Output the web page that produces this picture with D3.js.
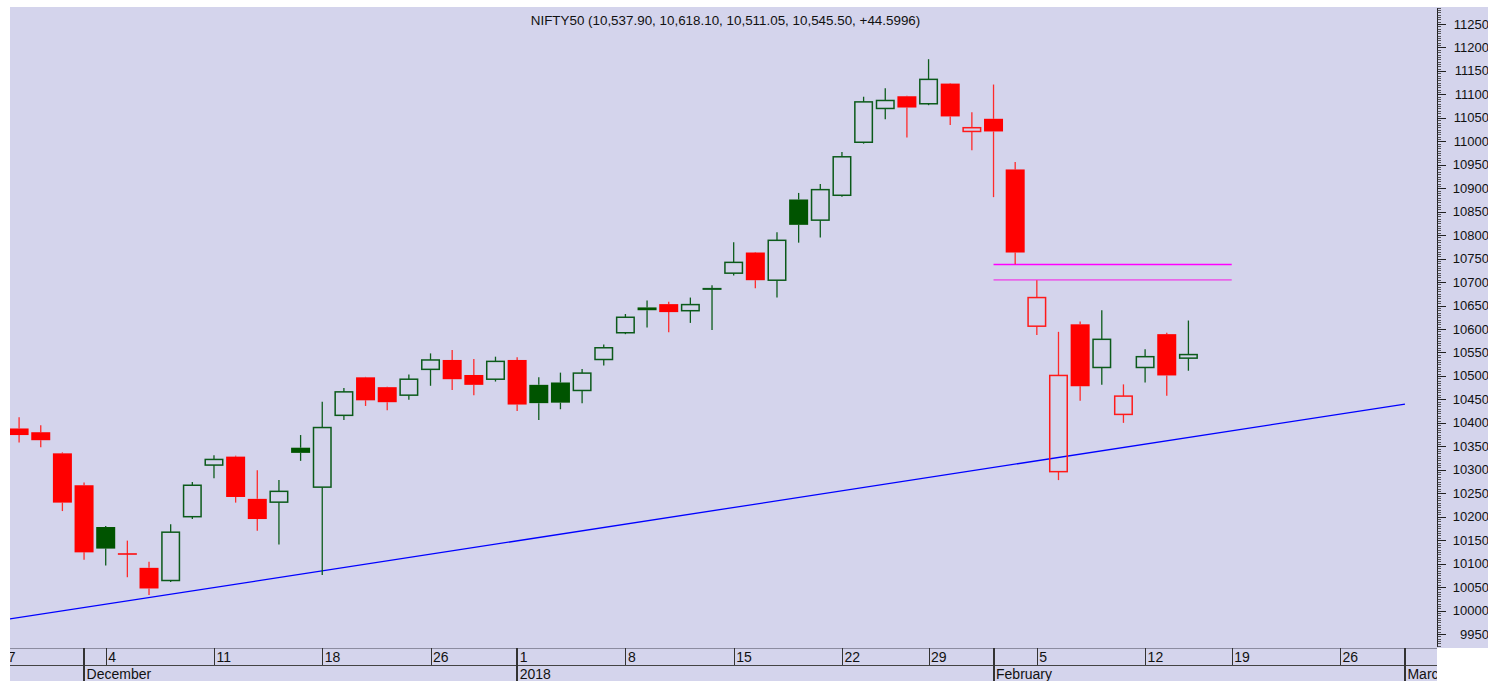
<!DOCTYPE html>
<html>
<head>
<meta charset="utf-8" />
<script src="https://d3js.org/d3.v7.min.js"></script>
<style>
  body { margin: 0; background: #fff; }
  text { font-family: "Liberation Sans", Arial, sans-serif; fill: #111; }
</style>
</head>
<body>
<div id="chart"></div>
<script>
// chart values
const title = "NIFTY50 (10,537.90, 10,618.10, 10,511.05, 10,545.50, +44.5996)";

const dates = [
  "2017-11-28", "2017-11-29", "2017-11-30", "2017-12-01", "2017-12-04", "2017-12-05", "2017-12-06",
  "2017-12-07", "2017-12-08", "2017-12-11", "2017-12-12", "2017-12-13", "2017-12-14", "2017-12-15",
  "2017-12-18", "2017-12-19", "2017-12-20", "2017-12-21", "2017-12-22", "2017-12-26", "2017-12-27",
  "2017-12-28", "2017-12-29", "2018-01-01", "2018-01-02", "2018-01-03", "2018-01-04", "2018-01-05",
  "2018-01-08", "2018-01-09", "2018-01-10", "2018-01-11", "2018-01-12", "2018-01-15", "2018-01-16",
  "2018-01-17", "2018-01-18", "2018-01-19", "2018-01-22", "2018-01-23", "2018-01-24", "2018-01-25",
  "2018-01-29", "2018-01-30", "2018-01-31", "2018-02-01", "2018-02-02", "2018-02-05", "2018-02-06",
  "2018-02-07", "2018-02-08", "2018-02-09", "2018-02-12", "2018-02-14", "2018-02-15"
];
const open = [
  10388, 10380, 10335, 10267, 10178, 10121, 10091, 10064, 10200, 10310, 10328, 10238, 10231, 10347,
  10263, 10416, 10497, 10476, 10459, 10514, 10534, 10502, 10493, 10534, 10481, 10486, 10469, 10535,
  10592, 10646, 10653, 10639, 10685, 10719, 10763, 10704, 10876, 10832, 10885, 10998, 11070, 11096,
  11080, 11123, 11021, 11048, 10940, 10606, 10296, 10610, 10518, 10418, 10518, 10589, 10537.9
];
const high = [
  10412, 10395, 10337, 10273, 10180, 10149, 10104, 10184, 10274, 10331, 10330, 10299, 10278, 10374,
  10445, 10474, 10498, 10477, 10503, 10548, 10555, 10536, 10541, 10540, 10497, 10507, 10515, 10567,
  10632, 10661, 10658, 10667, 10693, 10785, 10764, 10806, 10890, 10909, 10977, 11095, 11113, 11097,
  11175, 11124, 11062, 11121, 10956, 10704, 10594, 10616, 10640, 10482, 10557, 10592, 10618.1
];
const low = [
  10358, 10348, 10212, 10108, 10096, 10071, 10033, 10061, 10195, 10282, 10230, 10170, 10141, 10319,
  10076, 10406, 10436, 10427, 10449, 10479, 10470, 10459, 10488, 10425, 10406, 10429, 10442, 10522,
  10589, 10603, 10593, 10613, 10598, 10714, 10687, 10667, 10784, 10795, 10882, 10995, 11047, 11008,
  11077, 11035, 10981, 10881, 10738, 10587, 10278, 10447, 10481, 10400, 10486, 10458, 10511.05
];
const close = [
  10374, 10363, 10230, 10124, 10132, 10120, 10047, 10167, 10267, 10322, 10242, 10195, 10254, 10336,
  10390, 10466, 10448, 10444, 10493, 10534, 10493, 10481, 10531, 10439, 10442, 10443, 10506, 10560,
  10625, 10640, 10636, 10652, 10686, 10742, 10704, 10789, 10822, 10897, 10967, 11084, 11087, 11072,
  11132, 11053, 11029, 11021, 10763, 10667, 10501, 10478, 10578, 10457, 10541, 10501, 10545.5
];

// trading calendar shown on the axis
const calendarStart = "2017-11-27";
const calendarEnd = "2018-03-02";
const holidays = ["2017-12-25", "2018-01-26", "2018-02-13"];

const yTicks = d3.range(9950, 11251, 50);

// drawn lines: gap levels and the rising trendline
const gapLevels = [10737.5, 10704.5];
const gapColors = ["#ff00ff", "#e866e8"];
const gapFrom = "2018-02-01";
const gapTo = "2018-02-19";
const trendDates = ["2017-11-27", "2018-03-01"];
const trendValues = [9978, 10440];

// layout
const W = 1488, H = 681;
const plot = { left: 10, right: 1437, top: 7, bottom: 648 };
const bg = "#d4d4ec";

const fmt = d3.timeFormat("%Y-%m-%d");
const parse = d3.timeParse("%Y-%m-%d");
const calendar = d3.timeDay
  .range(parse(calendarStart), d3.timeDay.offset(parse(calendarEnd), 1))
  .filter((d) => d.getDay() != 0 && d.getDay() != 6 && !holidays.includes(fmt(d)));
const dayIndex = new Map(calendar.map((d, i) => [fmt(d), i]));

const x = d3.scaleLinear().domain([0.58, 66.48]).range([plot.left, plot.right]);
const y = d3.scaleLinear().domain([9950, 11250]).range([634, 24]);
const xd = (s) => x(dayIndex.get(s));

const svg = d3.select("#chart").append("svg").attr("width", W).attr("height", H);

svg.append("rect").attr("x", plot.left).attr("y", plot.top)
  .attr("width", W - plot.left).attr("height", plot.bottom - plot.top).attr("fill", bg);
svg.append("rect").attr("x", plot.left).attr("y", plot.bottom)
  .attr("width", plot.right - plot.left).attr("height", H - plot.bottom).attr("fill", bg);

svg.append("clipPath").attr("id", "plotclip").append("rect")
  .attr("x", plot.left).attr("y", plot.top)
  .attr("width", plot.right - plot.left).attr("height", plot.bottom - plot.top);
svg.append("clipPath").attr("id", "axisclip").append("rect")
  .attr("x", plot.left).attr("y", plot.bottom)
  .attr("width", plot.right - plot.left).attr("height", H - plot.bottom);

const g = svg.append("g").attr("clip-path", "url(#plotclip)");

// title
svg.append("text").attr("x", (plot.left + plot.right) / 2 + 2).attr("y", 25)
  .attr("text-anchor", "middle").style("font-size", "13.4px").text(title);

// trendline
g.append("line")
  .attr("x1", xd(trendDates[0])).attr("y1", y(trendValues[0]))
  .attr("x2", xd(trendDates[1])).attr("y2", y(trendValues[1]))
  .attr("stroke", "#0000ff").attr("stroke-width", 1.3);

// gap lines
gapLevels.forEach((v, i) => {
  g.append("line")
    .attr("x1", xd(gapFrom)).attr("x2", xd(gapTo))
    .attr("y1", y(v)).attr("y2", y(v))
    .attr("stroke", gapColors[i]).attr("stroke-width", i == 0 ? 1.3 : 1.8);
});

// candles
const candles = dates.map((d, i) => ({
  date: d, o: open[i], h: high[i], l: low[i], c: close[i],
  prev: i > 0 ? close[i - 1] : open[i],
}));
const bw = 19;
const node = g.selectAll(".candle").data(candles).enter().append("g").attr("class", "candle");

candles.forEach((d) => {
  d.up = d.c >= d.prev;
  d.hollow = d.c > d.o;
  d.col = d.up ? "#005400" : "#ff0000";
  d.wick = d.up ? "#0d5c1c" : "#ff2a2a";
  d.top = y(Math.max(d.o, d.c));
  d.bot = y(Math.min(d.o, d.c));
});

node.append("line")
  .attr("x1", (d) => xd(d.date)).attr("x2", (d) => xd(d.date))
  .attr("y1", (d) => y(d.h)).attr("y2", (d) => d.top)
  .attr("stroke", (d) => d.wick).attr("stroke-width", 1.3);
node.append("line")
  .attr("x1", (d) => xd(d.date)).attr("x2", (d) => xd(d.date))
  .attr("y1", (d) => d.bot).attr("y2", (d) => y(d.l))
  .attr("stroke", (d) => d.wick).attr("stroke-width", 1.3);

node.filter((d) => !d.hollow).append("rect")
  .attr("x", (d) => xd(d.date) - bw / 2).attr("width", bw)
  .attr("y", (d) => (d.bot - d.top < 1.5 ? (d.top + d.bot) / 2 - 0.75 : d.top))
  .attr("height", (d) => Math.max(1.5, d.bot - d.top))
  .attr("fill", (d) => d.col);

node.filter((d) => d.hollow).append("rect")
  .attr("x", (d) => xd(d.date) - bw / 2 + 0.75).attr("width", bw - 1.5)
  .attr("y", (d) => d.top).attr("height", (d) => Math.max(0.5, d.bot - d.top))
  .attr("fill", "none")
  .attr("stroke", (d) => (d.up ? "#0b5a1a" : "#ff1a1a"))
  .attr("stroke-width", 1.5);

// right price axis
const ya = svg.append("g");
ya.append("line").attr("x1", plot.right + 0.5).attr("x2", plot.right + 0.5)
  .attr("y1", plot.top + 1).attr("y2", plot.bottom - 1)
  .attr("stroke", "#222").attr("stroke-width", 1);
const minor = d3.range(9920, 11290, 5).filter((v) => y(v) > plot.top && y(v) < plot.bottom - 1);
ya.selectAll(".minor").data(minor).enter().append("line")
  .attr("x1", plot.right).attr("x2", plot.right + 4)
  .attr("y1", (v) => Math.round(y(v)) + 0.5).attr("y2", (v) => Math.round(y(v)) + 0.5)
  .attr("stroke", "#333").attr("stroke-width", 0.8);
ya.selectAll(".major").data(yTicks).enter().append("line")
  .attr("x1", plot.right).attr("x2", plot.right + 9)
  .attr("y1", (v) => Math.round(y(v)) + 0.5).attr("y2", (v) => Math.round(y(v)) + 0.5)
  .attr("stroke", "#222").attr("stroke-width", 1);
ya.selectAll(".lbl").data(yTicks).enter().append("text")
  .attr("x", 1489).attr("y", (v) => y(v) + 4.5)
  .attr("text-anchor", "end").style("font-size", "13px")
  .text((v) => v);

// bottom time axis
const xa = svg.append("g").attr("clip-path", "url(#axisclip)");
xa.append("line").attr("x1", plot.left).attr("x2", plot.right)
  .attr("y1", plot.bottom + 0.5).attr("y2", plot.bottom + 0.5).attr("stroke", "#8c8ca0");
xa.append("line").attr("x1", plot.left).attr("x2", plot.right)
  .attr("y1", 665.5).attr("y2", 665.5).attr("stroke", "#444");

const weekStarts = calendar.filter((d, i) => i == 0 || d3.timeMonday.floor(d) > calendar[i - 1]);
const monthStarts = calendar.filter((d, i) => i > 0 && d.getMonth() != calendar[i - 1].getMonth());
const monthName = d3.timeFormat("%B");

xa.selectAll(".wk").data(weekStarts).enter().append("line")
  .attr("x1", (d) => Math.round(xd(fmt(d))) + 0.5).attr("x2", (d) => Math.round(xd(fmt(d))) + 0.5)
  .attr("y1", plot.bottom).attr("y2", 665).attr("stroke", "#333");
xa.selectAll(".wkl").data(weekStarts).enter().append("text")
  .attr("x", (d) => xd(fmt(d)) + 2.5).attr("y", 662)
  .style("font-size", "14px").text((d) => d.getDate());

xa.selectAll(".mo").data(monthStarts).enter().append("line")
  .attr("x1", (d) => Math.round(xd(fmt(d)))).attr("x2", (d) => Math.round(xd(fmt(d))))
  .attr("y1", plot.bottom).attr("y2", H).attr("stroke", "#333").attr("stroke-width", 2);
xa.selectAll(".mol").data(monthStarts).enter().append("text")
  .attr("x", (d) => xd(fmt(d)) + 2.5).attr("y", 679)
  .style("font-size", "14px")
  .text((d) => (d.getMonth() == 0 ? d.getFullYear() : monthName(d)));
</script>
</body>
</html>
